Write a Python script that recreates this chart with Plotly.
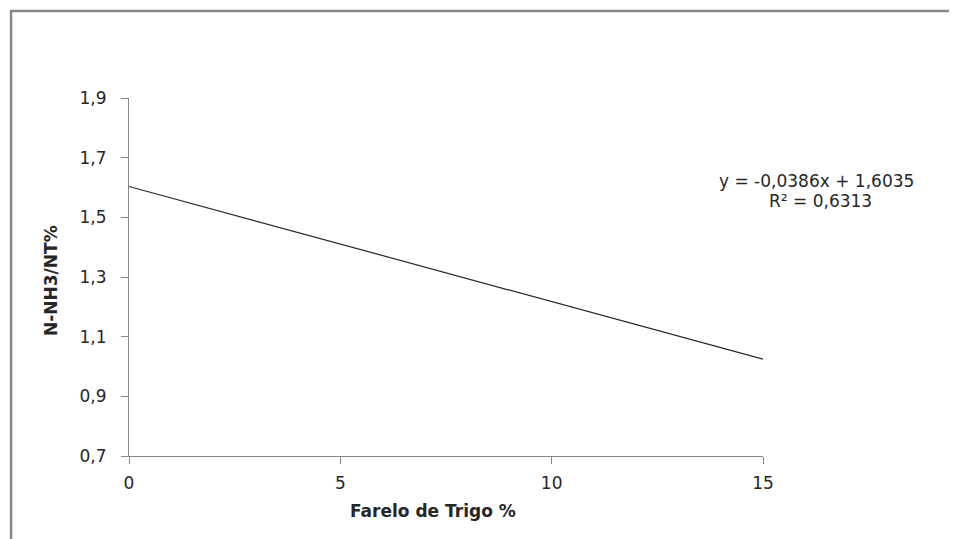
import plotly.graph_objects as go

# Data (trend line endpoints)
x_vals = [0, 15]
y_vals = [1.6035, 1.0245]
x_ticks = [0, 5, 10, 15]
y_ticks = [0.7, 0.9, 1.1, 1.3, 1.5, 1.7, 1.9]
x_title = "Farelo de Trigo %"
y_title = "N-NH3/NT%"
eq_text = "y = -0,0386x + 1,6035"
r2_text = "R² = 0,6313"

FONT = "DejaVu Sans, Verdana, sans-serif"
AXIS_COLOR = "#868686"
TEXT_COLOR = "#262626"

fig = go.Figure()
fig.add_trace(go.Scatter(x=x_vals, y=y_vals, mode="lines",
                         line=dict(color="#262626", width=1.2),
                         showlegend=False, hoverinfo="skip"))

fig.update_layout(
    width=957, height=539,
    margin=dict(l=121, r=202, t=90, b=91, autoexpand=False),
    paper_bgcolor="white", plot_bgcolor="white",
    separators=",.",
    font=dict(family=FONT, size=17, color=TEXT_COLOR),
    xaxis=dict(range=[0, 15], tickvals=x_ticks, showgrid=False, zeroline=False,
               showline=True, linecolor=AXIS_COLOR, linewidth=1,
               ticks="outside", ticklen=7, tickcolor=AXIS_COLOR,
               ticklabelstandoff=5,
               tickfont=dict(size=17, color=TEXT_COLOR)),
    yaxis=dict(range=[0.7, 1.9], tickvals=y_ticks, tickformat=".1f",
               showgrid=False, zeroline=False,
               showline=True, linecolor=AXIS_COLOR, linewidth=1,
               ticks="outside", ticklen=7, tickcolor=AXIS_COLOR,
               ticklabelstandoff=11,
               tickfont=dict(size=17, color=TEXT_COLOR)),
    annotations=[
        dict(text="<b>" + x_title + "</b>", xref="paper", yref="paper",
             x=0.479, y=-0.154, xanchor="center", yanchor="middle", showarrow=False,
             font=dict(size=17, color=TEXT_COLOR)),
        dict(text="<b>" + y_title + "</b>", xref="paper", yref="paper",
             x=-0.124, y=0.49, xanchor="center", yanchor="middle", showarrow=False,
             textangle=-90, font=dict(size=17, color=TEXT_COLOR)),
        dict(text=eq_text, xref="paper", yref="paper",
             x=1.085, y=0.7682, xanchor="center", yanchor="middle", showarrow=False,
             font=dict(size=17, color=TEXT_COLOR)),
        dict(text=r2_text, xref="paper", yref="paper",
             x=1.090, y=0.7123, xanchor="center", yanchor="middle", showarrow=False,
             font=dict(size=17, color=TEXT_COLOR)),
    ],
    shapes=[
        dict(type="rect", xref="paper", yref="paper",
             x0=-0.186, y0=-0.3, x1=1.5, y1=1.243,
             line=dict(color="#878787", width=2.5), fillcolor="rgba(0,0,0,0)",
             layer="below"),
    ],
)

fig.write_html("out.html")
